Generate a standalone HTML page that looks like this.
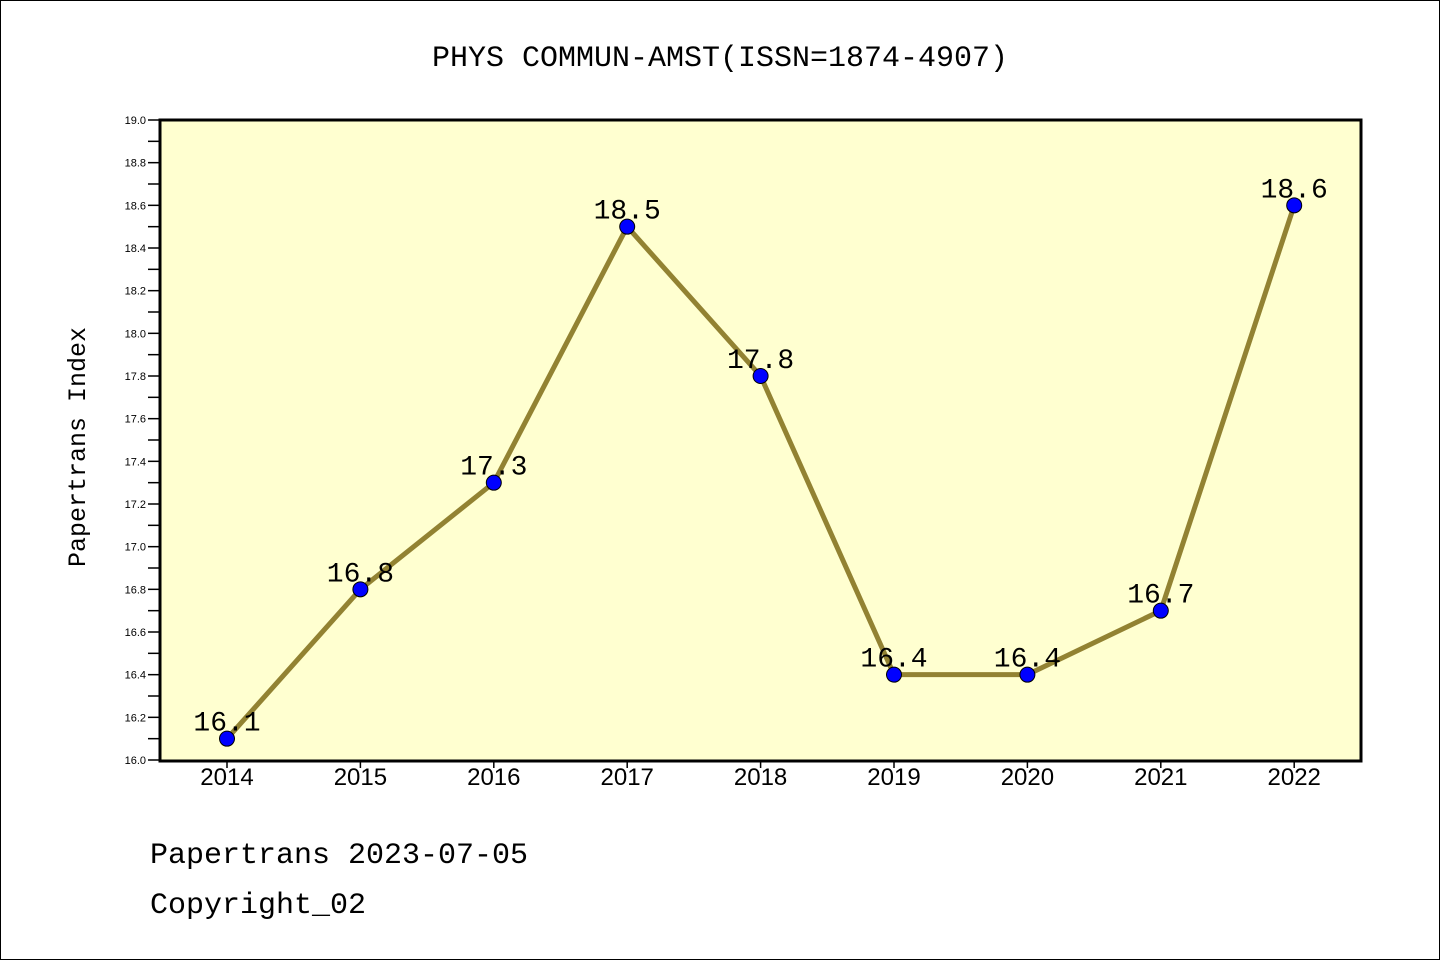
<!DOCTYPE html>
<html><head><meta charset="utf-8"><style>
body{margin:0;background:#fff}
svg{display:block;font-family:"Liberation Mono","DejaVu Sans Mono",monospace}
</style></head><body>
<svg id="c" width="1440" height="960">
<rect x="0.5" y="0.5" width="1439" height="959" fill="#fff" stroke="#000"/>
<text x="720" y="66" text-anchor="middle" font-size="30">PHYS COMMUN-AMST(ISSN=1874-4907)</text>
<rect x="160" y="120" width="1201" height="641" fill="#ffffd0" stroke="#000" stroke-width="3"/>
<text transform="translate(85,447) rotate(-90)" text-anchor="middle" font-size="25">Papertrans Index</text>
<text x="150" y="863" font-size="30">Papertrans 2023-07-05</text>
<text x="150" y="913" font-size="30">Copyright_02</text>
<g id="ax"></g><g id="marks"></g>
</svg>
<script>
const years=["2014","2015","2016","2017","2018","2019","2020","2021","2022"];
const values=[16.1,16.8,17.3,18.5,17.8,16.4,16.4,16.7,18.6];
const labels=["16.1","16.8","17.3","18.5","17.8","16.4","16.4","16.7","18.6"];
const yTicks=["16.0","16.2","16.4","16.6","16.8","17.0","17.2","17.4","17.6","17.8","18.0","18.2","18.4","18.6","18.8","19.0"];
const yMin=16,yMax=19;
const NS="http://www.w3.org/2000/svg";
const X=i=>227+i*133.4;
const Y=v=>760-(v-yMin)/(yMax-yMin)*640;
function mk(t,a,p){const e=document.createElementNS(NS,t);for(const k in a)e.setAttribute(k,a[k]);p.appendChild(e);return e;}
const ax=document.getElementById('ax'),mg=document.getElementById('marks');
yTicks.forEach((t,i)=>{const v=parseFloat(t),y=Y(v);
 const l=mk('line',{x1:148,x2:160,y1:y,y2:y,stroke:'#000','stroke-width':1.5},ax);
 
 
 const m=mk('line',{x1:148,x2:160,y1:Y(v+0.1),y2:Y(v+0.1),stroke:'#000','stroke-width':1.5},ax);
 if(v+0.1>yMax)m.remove();
 const tx=mk('text',{x:146,y:y+4,'text-anchor':'end','font-size':11,'font-family':'Liberation Sans, sans-serif'},ax);
 tx.textContent=t;
 
 
});
years.forEach((yr,i)=>{const x=X(i);
 mk('line',{x1:x,x2:x,y1:762,y2:768,stroke:'#000','stroke-width':1.5},ax);
 const t=mk('text',{x:x,y:785,'text-anchor':'middle','font-size':24,'font-family':'Liberation Sans, sans-serif'},ax);
 t.textContent=yr;
 
 
});
const pl=mk('polyline',{points:values.map((v,i)=>X(i)+','+Y(v)).join(' '),fill:'none',stroke:'#928232','stroke-width':5},mg);


values.forEach((v,i)=>{
 const c=mk('circle',{cx:X(i),cy:Y(v),r:7.5,fill:'#0000ff',stroke:'#000','stroke-width':1},mg);
 
 
 const t=mk('text',{x:X(i),y:Y(v)-8,'text-anchor':'middle','font-size':28},mg);
 t.textContent=labels[i];
 
 
});
</script>
</body></html>
